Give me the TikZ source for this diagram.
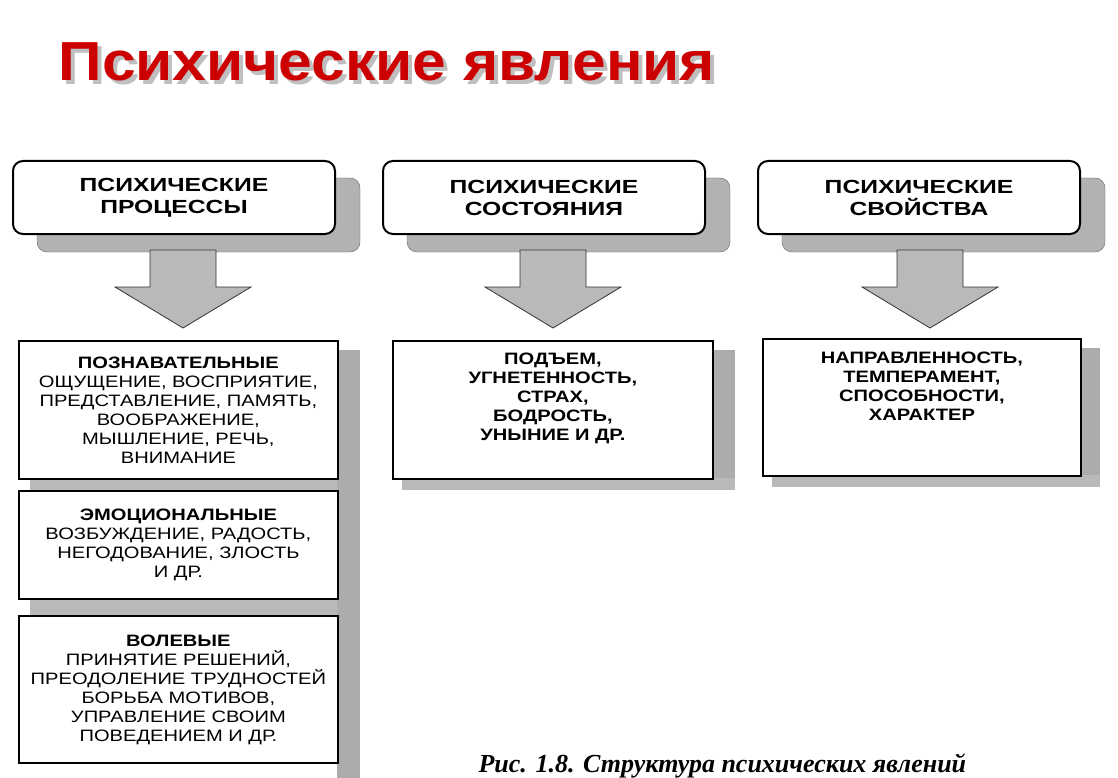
\documentclass[tikz,border=0pt]{standalone}
\usepackage{fontspec}
\setmainfont{Liberation Sans}
\newfontfamily\widefont[FakeStretch=1.3]{Liberation Sans}
\newfontfamily\medfont[FakeStretch=1.22]{Liberation Sans}
\newfontfamily\titlefont[FakeStretch=1.1]{Liberation Sans}
\newfontfamily\capfont{Liberation Serif}
\begin{document}
\begin{tikzpicture}[x=1pt,y=-1pt,
  hdr/.style={draw=black,line width=2pt,rounded corners=10pt,fill=white,align=center,font=\widefont\bfseries\fontsize{19}{22}\selectfont},
  shad/.style={fill=gray!60,draw=gray!80!black,rounded corners=10pt},
  bx/.style={draw=black,line width=1.8pt,fill=white,align=center,font=\medfont\bfseries\fontsize{16.5}{21}\selectfont},
  arr/.style={fill=gray!55,draw=gray!40!black,line width=0.8pt}]
\useasboundingbox (0,0) rectangle (1118,778);
\fill[white] (0,0) rectangle (1118,778);
% title
\node[anchor=west,text=gray!50,font=\titlefont\bfseries\fontsize{55}{60}\selectfont] at (59,66) {Психические явления};
\node[anchor=west,text=red!80!black,font=\titlefont\bfseries\fontsize{55}{60}\selectfont] (title) at (55,62) {Психические явления};
% headers
\foreach \x/\n/\t/\tip in {12/h1/{ПСИХИЧЕСКИЕ\\ПРОЦЕССЫ}/183, 382/h2/{ПСИХИЧЕСКИЕ\\СОСТОЯНИЯ}/553, 757/h3/{ПСИХИЧЕСКИЕ\\СВОЙСТВА}/930}{
  \draw[shad] (\x+25,178) rectangle (\x+348,252);
  \draw[arr] (\tip-33,250) -- (\tip+33,250) -- (\tip+33,287) -- (\tip+68,287) -- (\tip,328) -- (\tip-68,287) -- (\tip-33,287) -- cycle;
  \node[hdr,minimum width=322pt,minimum height=73pt,anchor=north west] (\n) at (\x,160) {\t};
}
% lower shadows
\fill[gray!65] (337,350) rectangle (360,778);
\fill[gray!55] (30,478) rectangle (337,490);
\fill[gray!55] (30,598) rectangle (337,615);
\fill[gray!65] (712,350) rectangle (735,490);
\fill[gray!55] (402,478) rectangle (735,490);
\fill[gray!65] (1080,348) rectangle (1100,487);
\fill[gray!55] (772,475) rectangle (1100,487);
\node[bx,minimum width=319pt,minimum height=138pt,anchor=north west] (a) at (18,340) {ПОЗНАВАТЕЛЬНЫЕ\\[-2pt]{\mdseries ОЩУЩЕНИЕ, ВОСПРИЯТИЕ,}\\[-2pt]{\mdseries ПРЕДСТАВЛЕНИЕ, ПАМЯТЬ,}\\[-2pt]{\mdseries ВООБРАЖЕНИЕ,}\\[-2pt]{\mdseries МЫШЛЕНИЕ, РЕЧЬ,}\\[-2pt]{\mdseries ВНИМАНИЕ}};
\node[bx,minimum width=319pt,minimum height=108pt,anchor=north west] (b) at (18,490) {ЭМОЦИОНАЛЬНЫЕ\\[-2pt]{\mdseries ВОЗБУЖДЕНИЕ, РАДОСТЬ,}\\[-2pt]{\mdseries НЕГОДОВАНИЕ, ЗЛОСТЬ}\\[-2pt]{\mdseries И ДР.}};
\node[bx,minimum width=319pt,minimum height=147pt,anchor=north west] (c) at (18,615) {ВОЛЕВЫЕ\\[-2pt]{\mdseries ПРИНЯТИЕ РЕШЕНИЙ,}\\[-2pt]{\mdseries ПРЕОДОЛЕНИЕ ТРУДНОСТЕЙ}\\[-2pt]{\mdseries БОРЬБА МОТИВОВ,}\\[-2pt]{\mdseries УПРАВЛЕНИЕ СВОИМ}\\[-2pt]{\mdseries ПОВЕДЕНИЕМ И ДР.}};
\node[bx,minimum width=320pt,minimum height=138pt,anchor=north west] (d) at (392,340) {ПОДЪЕМ,\\[-2pt]УГНЕТЕННОСТЬ,\\[-2pt]СТРАХ,\\[-2pt]БОДРОСТЬ,\\[-2pt]УНЫНИЕ И ДР.\\[6pt]};
\node[bx,minimum width=318pt,minimum height=137pt,anchor=north west] (e) at (762,338) {НАПРАВЛЕННОСТЬ,\\[-2pt]ТЕМПЕРАМЕНТ,\\[-2pt]СПОСОБНОСТИ,\\[-2pt]ХАРАКТЕР\\[22pt]};
\node[anchor=west,font=\capfont\bfseries\itshape\fontsize{26}{26}\selectfont] (cap) at (475,766) {Рис. 1.8. Структура психических явлений};
\end{tikzpicture}
\end{document}
